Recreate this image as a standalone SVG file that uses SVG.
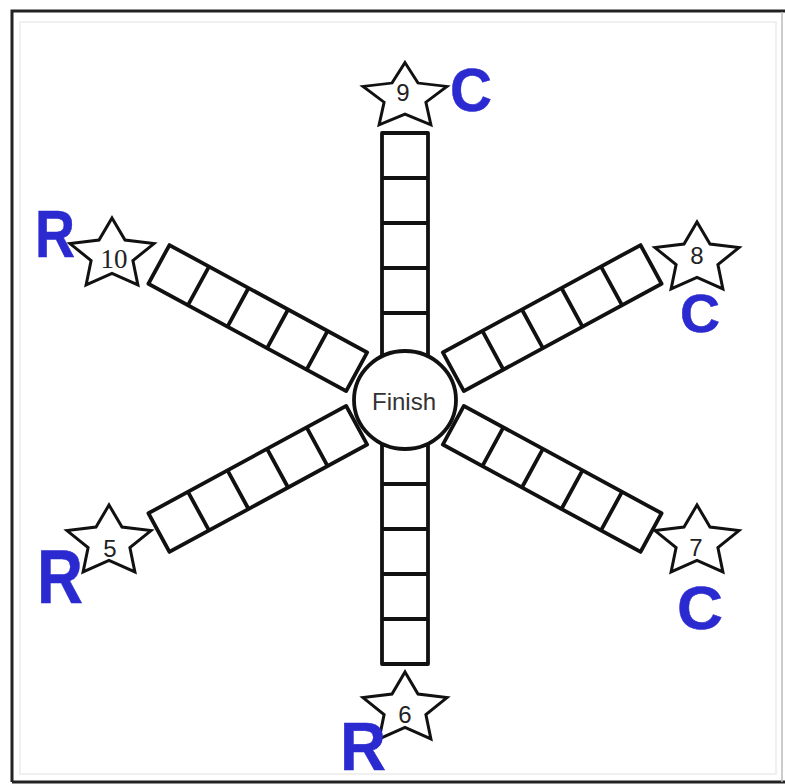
<svg xmlns="http://www.w3.org/2000/svg" width="785" height="784" viewBox="0 0 785 784">
<style>
  .sq{fill:#fff;stroke:#111;stroke-width:3.8;stroke-linejoin:round}
  .ln{stroke:#111;stroke-width:3.8;fill:none}
  .star{fill:#fff;stroke:#111;stroke-width:3;stroke-linejoin:miter}
  .num{font-family:"Liberation Sans",Arial,sans-serif;font-size:24px;fill:#222;text-anchor:middle}
  .num10{font-family:"Liberation Serif","Times New Roman",serif;font-size:27px;fill:#222;text-anchor:middle}
  .lab{font-family:"Liberation Sans",Arial,sans-serif;font-weight:bold;fill:#2a2ad0;stroke:#2a2ad0;stroke-width:0.5}
  .fin{font-family:"Liberation Sans",Arial,sans-serif;font-size:24px;fill:#333;text-anchor:middle}
</style>
<defs>
  <g id="strip">
    <rect class="sq" x="0" y="-23" width="225" height="46"/>
    <path class="ln" d="M45,-23V23M90,-23V23M135,-23V23M180,-23V23"/>
  </g>
  <g id="dstrip">
    <rect class="sq" x="0" y="-22" width="225" height="44"/>
    <path class="ln" d="M45,-22V22M90,-22V22M135,-22V22M180,-22V22"/>
  </g>
  <path id="starshape" class="star" d="M0,-37 L13,-15 L42,-11.4 L20.9,5.6 L25.9,29.9 L0,18.4 L-25.9,29.9 L-20.9,5.6 L-42,-11.4 L-13,-15 Z"/>
</defs>
<rect x="0" y="0" width="785" height="784" fill="#fff"/>
<rect x="20" y="22" width="756" height="752" fill="none" stroke="#f0f0f0" stroke-width="2"/>
<path d="M12,782 V11 H785" fill="none" stroke="#222" stroke-width="3"/>
<path d="M12,782 H785" fill="none" stroke="#222" stroke-width="3"/>
<path d="M782,12 V782" fill="none" stroke="#bbb" stroke-width="1.5"/>

<g id="connectors">
  <g id="strip-top"><use href="#strip" transform="translate(405,400) rotate(-90) translate(42,0)"/></g>
  <g id="strip-bottom"><use href="#strip" transform="translate(405,400) rotate(90) translate(39,0)"/></g>
  <g id="strip-upper-left"><use href="#dstrip" transform="translate(405,398) rotate(208.5) translate(55,0)"/></g>
  <g id="strip-upper-right"><use href="#dstrip" transform="translate(405,398) rotate(-28.5) translate(55,0)"/></g>
  <g id="strip-lower-left"><use href="#dstrip" transform="translate(405,399) rotate(151.5) translate(55,0)"/></g>
  <g id="strip-lower-right"><use href="#dstrip" transform="translate(405,399) rotate(28.5) translate(55,0)"/></g>
</g>

<g id="finish">
  <ellipse cx="405" cy="400" rx="51" ry="49" fill="#fff" stroke="#111" stroke-width="3.8"/>
  <text class="fin" x="404" y="410">Finish</text>
</g>

<g id="star-9">
  <use href="#starshape" transform="translate(405,97) scale(1,0.93)"/>
  <text class="num" x="403" y="101">9</text>
</g>
<g id="star-10">
  <use href="#starshape" transform="translate(112,255)"/>
  <text class="num10" x="114" y="268">10</text>
</g>
<g id="star-8">
  <use href="#starshape" transform="translate(697,259)"/>
  <text class="num" x="697" y="264">8</text>
</g>
<g id="star-5">
  <use href="#starshape" transform="translate(109,542)"/>
  <text class="num" x="110" y="557">5</text>
</g>
<g id="star-7">
  <use href="#starshape" transform="translate(697,542)"/>
  <text class="num" x="696" y="556">7</text>
</g>
<g id="star-6">
  <use href="#starshape" transform="translate(405,709)"/>
  <text class="num" x="405" y="723">6</text>
</g>

<g id="labels">
  <text class="lab" x="450" y="111" font-size="62" textLength="42" lengthAdjust="spacingAndGlyphs">C</text>
  <text class="lab" x="35" y="257" font-size="66" textLength="40" lengthAdjust="spacingAndGlyphs">R</text>
  <text class="lab" x="680" y="332" font-size="54" textLength="40" lengthAdjust="spacingAndGlyphs">C</text>
  <text class="lab" x="37" y="603" font-size="76" textLength="46" lengthAdjust="spacingAndGlyphs">R</text>
  <text class="lab" x="677" y="629" font-size="62" textLength="46" lengthAdjust="spacingAndGlyphs">C</text>
  <text class="lab" x="340" y="770" font-size="68" textLength="46" lengthAdjust="spacingAndGlyphs">R</text>
</g>
</svg>
